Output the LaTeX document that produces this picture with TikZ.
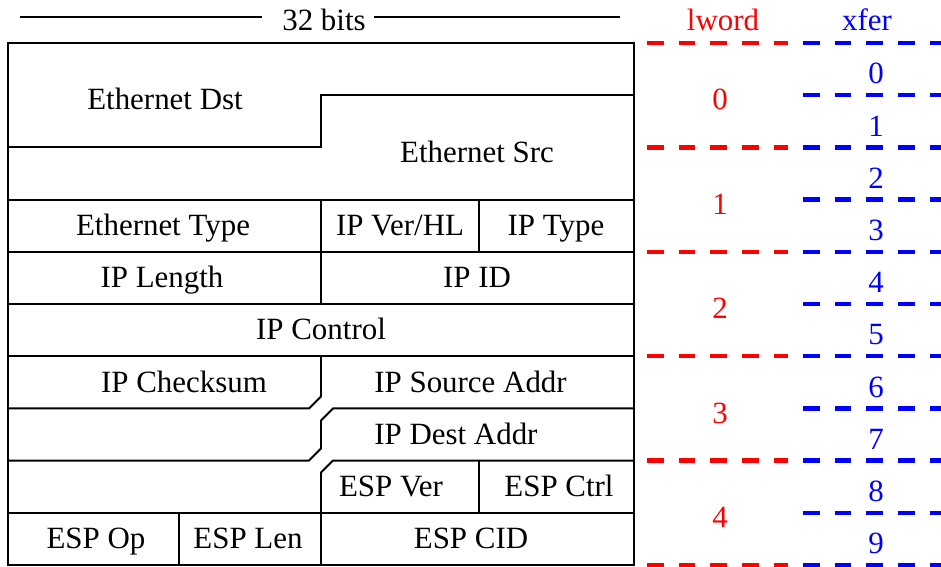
\documentclass[tikz,border=0pt]{standalone}
\usepackage{fontspec}
\setmainfont{Liberation Serif}
\usepackage{tikz}
\usetikzlibrary{positioning}

\begin{document}
\begin{tikzpicture}[x=0.02cm,y=-0.02cm]
\tikzstyle{field}=[anchor=base, inner sep=0pt, font=\fontsize{17.6}{20}\selectfont]
\tikzstyle{lwnum}=[field, text=red]
\tikzstyle{xfnum}=[field, text=blue]
\tikzstyle{frame}=[line width=1.1pt, black]
\tikzstyle{lwline}=[line width=2.4pt, red, dash pattern=on 0.334cm off 0.3cm]
\tikzstyle{xfline}=[line width=2.4pt, blue, dash pattern=on 0.334cm off 0.3cm]
\useasboundingbox (0,0) rectangle (941,567);

% header
\node[field] (bits) at (324,31) {32 bits};
\node[lwnum] (lword) at (723,31) {lword};
\node[xfnum] (xfer) at (867,31) {xfer};
\draw[frame] (20,17) -- (262,17);
\draw[frame] (374,17) -- (620,17);

% packet layout
\draw[frame] (8,43) rectangle (634,565);
\draw[frame] (8,147.4) -- (321,147.4) -- (321,95.2) -- (634,95.2);
\draw[frame] (8,199.6) -- (634,199.6);
\draw[frame] (8,251.8) -- (634,251.8);
\draw[frame] (321,199.6) -- (321,304);
\draw[frame] (479,199.6) -- (479,251.8);
\draw[frame] (8,304) -- (634,304);
\draw[frame] (8,356.2) -- (634,356.2);
\draw[frame] (321,356.2) -- (321,396.4) -- (309,408.4) -- (8,408.4);
\draw[frame] (634,408.4) -- (333,408.4) -- (321,420.4) -- (321,448.6) -- (309,460.6) -- (8,460.6);
\draw[frame] (634,460.6) -- (333,460.6) -- (321,472.6) -- (321,565);
\draw[frame] (479,460.6) -- (479,512.8);
\draw[frame] (8,512.8) -- (634,512.8);
\draw[frame] (179,512.8) -- (179,565);

\node[field] (edst) at (165,110) {Ethernet Dst};
\node[field] (esrc) at (477,162.5) {Ethernet Src};
\node[field] (etype) at (163,236) {Ethernet Type};
\node[field] (ipver) at (400,236) {IP Ver/HL};
\node[field] (iptype) at (556,236) {IP Type};
\node[field] (iplen) at (162,288) {IP Length};
\node[field] (ipid) at (477,288) {IP ID};
\node[field] (ipctl) at (321,340) {IP Control};
\node[field] (ipsum) at (184,392.5) {IP Checksum};
\node[field, anchor=base west] (ipsrc) at (374,392.5) {IP Source Addr};
\node[field, anchor=base west] (ipdst) at (374,444.5) {IP Dest Addr};
\node[field] (espver) at (391,496.5) {ESP Ver};
\node[field] (espctl) at (559,496.5) {ESP Ctrl};
\node[field] (espop) at (96,549) {ESP Op};
\node[field] (esplen) at (248,549) {ESP Len};
\node[field] (espcid) at (471,549) {ESP CID};

% lword / xfer rulers
\foreach \i in {0,...,5}
  \draw[lwline] (647,43+104.4*\i) -- (788,43+104.4*\i);
\foreach \i in {0,...,10}
  \draw[xfline] (803,43+52.2*\i) -- (941,43+52.2*\i);
\foreach \i in {0,...,4}
  \node[lwnum] (lw\i) at (720,110+104.4*\i) {\i};
\foreach \i in {0,...,9}
  \node[xfnum] (xf\i) at (876,84+52.2*\i) {\i};

\end{tikzpicture}
\end{document}
